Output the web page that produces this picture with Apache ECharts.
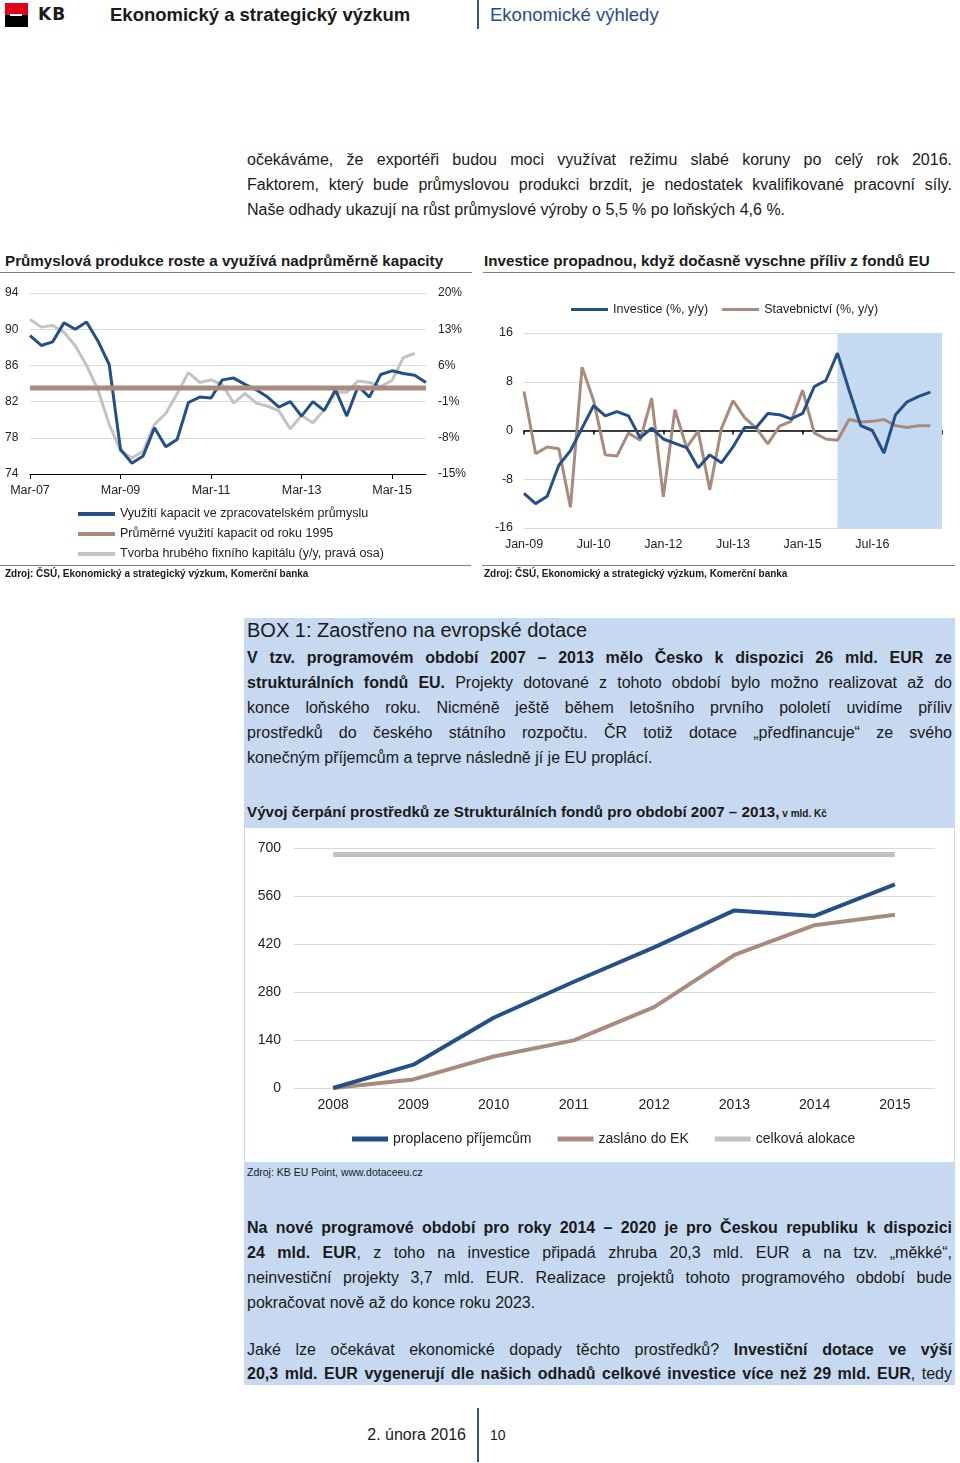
<!DOCTYPE html>
<html><head><meta charset="utf-8">
<script src="https://cdn.jsdelivr.net/npm/echarts@6/dist/echarts.min.js"></script>
<style>
body{margin:0;width:960px;height:1463px;position:relative;background:#fff;font-family:"Liberation Sans",Arial,sans-serif;color:#1a1a1a;overflow:hidden}
.abs{position:absolute}
.txt{position:absolute;left:247px;width:705px;font-size:16px;line-height:25px}
.j{white-space:nowrap}
b{font-weight:bold}
</style></head>
<body>
<!-- header -->
<div class="abs" style="left:5px;top:3px;width:23px;height:12px;background:#e2001a"></div>
<div class="abs" style="left:5px;top:15px;width:23px;height:12px;background:#000"></div>
<div class="abs" style="left:10px;top:14px;width:12px;height:2px;background:#fff"></div>
<div class="abs" style="left:38px;top:4px;font:bold 17px 'DejaVu Sans';letter-spacing:1px">KB</div>
<div class="abs" style="left:110px;top:4px;font:bold 18.5px 'Liberation Sans'">Ekonomický a strategický výzkum</div>
<div class="abs" style="left:477px;top:0;width:2px;height:29px;background:#2f5597"></div>
<div class="abs" style="left:490px;top:4px;font:18.5px 'Liberation Sans';color:#1f4e8c">Ekonomické výhledy</div>

<div class="txt" style="top:146.5px">
<div class="j">očekáváme, že exportéři budou moci využívat režimu slabé koruny po celý rok 2016.</div>
<div class="j">Faktorem, který bude průmyslovou produkci brzdit, je nedostatek kvalifikované pracovní síly.</div>
<div>Naše odhady ukazují na růst průmyslové výroby o 5,5 % po loňských 4,6 %.</div>
</div>

<!-- chart titles -->
<div class="abs" style="left:5px;top:252px;font:bold 15.2px 'Liberation Sans'">Průmyslová produkce roste a využívá nadprůměrně kapacity</div>
<div class="abs" style="left:484px;top:252px;font:bold 15.2px 'Liberation Sans'">Investice propadnou, když dočasně vyschne příliv z fondů EU</div>
<div class="abs" style="left:0;top:272px;width:472px;height:1px;background:#7f7f7f"></div>
<div class="abs" style="left:483px;top:272px;width:472px;height:1px;background:#7f7f7f"></div>

<div id="c1" class="abs" style="left:0;top:280px;width:480px;height:300px"></div>
<div id="c2" class="abs" style="left:480px;top:280px;width:480px;height:285px"></div>

<div class="abs" style="left:0;top:565px;width:471px;height:1px;background:#7f7f7f"></div>
<div class="abs" style="left:482px;top:565px;width:473px;height:1px;background:#7f7f7f"></div>
<div class="abs" style="left:5px;top:568px;font:bold 10px 'Liberation Sans'">Zdroj: ČSÚ, Ekonomický a strategický výzkum, Komerční banka</div>
<div class="abs" style="left:484px;top:568px;font:bold 10px 'Liberation Sans'">Zdroj: ČSÚ, Ekonomický a strategický výzkum, Komerční banka</div>

<!-- box -->
<div class="abs" style="left:244px;top:618px;width:711px;height:767px;background:#c6d9f1"></div>
<div class="abs" style="left:247px;top:619px;font:20px 'Liberation Sans'">BOX 1: Zaostřeno na evropské dotace</div>
<div class="txt" style="top:644.5px">
<div class="j"><b>V tzv. programovém období 2007 – 2013 mělo Česko k dispozici 26 mld. EUR ze</b></div>
<div class="j"><b>strukturálních fondů EU.</b> Projekty dotované z tohoto období bylo možno realizovat až do</div>
<div class="j">konce loňského roku. Nicméně ještě během letošního prvního pololetí uvidíme příliv</div>
<div class="j">prostředků do českého státního rozpočtu. ČR totiž dotace „předfinancuje“ ze svého</div>
<div>konečným příjemcům a teprve následně jí je EU proplácí.</div>
</div>
<div class="abs" style="left:247px;top:803px;font:bold 15.2px 'Liberation Sans'">Vývoj čerpání prostředků ze Strukturálních fondů pro období 2007 – 2013,<span style="font-size:10px"> v mld. Kč</span></div>
<div id="c3" class="abs" style="left:245px;top:828px;width:709px;height:334px;background:#fff"></div>
<div class="abs" style="left:247px;top:1166px;font:10.5px 'Liberation Sans'">Zdroj: KB EU Point, www.dotaceeu.cz</div>
<div class="txt" style="top:1214.5px">
<div class="j"><b>Na nové programové období pro roky 2014 – 2020 je pro Českou republiku k dispozici</b></div>
<div class="j"><b>24 mld. EUR</b>, z toho na investice připadá zhruba 20,3 mld. EUR a na tzv. „měkké“,</div>
<div class="j">neinvestiční projekty 3,7 mld. EUR. Realizace projektů tohoto programového období bude</div>
<div>pokračovat nově až do konce roku 2023.</div>
</div>
<div class="txt" style="top:1338px;line-height:24px">
<div class="j">Jaké lze očekávat ekonomické dopady těchto prostředků? <b>Investiční dotace ve výší</b></div>
<div class="j"><b>20,3 mld. EUR vygenerují dle našich odhadů celkové investice více než 29 mld. EUR</b>, tedy</div>
</div>

<!-- footer -->
<div class="abs" style="left:300px;width:166px;text-align:right;top:1426px;font:16px 'Liberation Sans'">2. února 2016</div>
<div class="abs" style="left:477px;top:1408px;width:2px;height:54px;background:#2f5597"></div>
<div class="abs" style="left:490px;top:1427px;font:14px 'Liberation Sans'">10</div>

<script>
// ---------- data ----------
const quartersA = ['Mar-07','Jun-07','Sep-07','Dec-07','Mar-08','Jun-08','Sep-08','Dec-08','Mar-09','Jun-09','Sep-09','Dec-09','Mar-10','Jun-10','Sep-10','Dec-10','Mar-11','Jun-11','Sep-11','Dec-11','Mar-12','Jun-12','Sep-12','Dec-12','Mar-13','Jun-13','Sep-13','Dec-13','Mar-14','Jun-14','Sep-14','Dec-14','Mar-15','Jun-15','Sep-15','Dec-15'];
const capacityUse = [89.3,88.2,88.6,90.7,90.0,90.8,88.7,86.1,76.7,75.2,76.0,79.1,77.0,77.8,81.9,82.5,82.4,84.4,84.6,83.9,83.3,82.5,81.4,82.0,80.4,82.0,81.0,83.3,80.4,83.7,82.5,85.0,85.4,85.1,84.9,84.1];
const capacityAvg = [83.5,83.5,83.5,83.5,83.5,83.5,83.5,83.5,83.5,83.5,83.5,83.5,83.5,83.5,83.5,83.5,83.5,83.5,83.5,83.5,83.5,83.5,83.5,83.5,83.5,83.5,83.5,83.5,83.5,83.5,83.5,83.5,83.5,83.5,83.5,83.5];
const gfcf = [14.9,13.4,13.7,12.4,9.8,6.0,1.3,-5.4,-10.5,-11.9,-10.6,-5.4,-3.3,0.5,4.6,2.7,3.2,2.3,-1.3,0.6,-1.3,-1.9,-2.8,-6.3,-3.7,-5.1,-2.6,0.8,0.8,3.0,2.7,1.9,3.1,7.5,8.3,null];
const leftTicks = {min:74, max:94, step:4};
const rightTicks = {min:-15, max:20, step:7};

const quartersB = ['Jan-09','Apr-09','Jul-09','Oct-09','Jan-10','Apr-10','Jul-10','Oct-10','Jan-11','Apr-11','Jul-11','Oct-11','Jan-12','Apr-12','Jul-12','Oct-12','Jan-13','Apr-13','Jul-13','Oct-13','Jan-14','Apr-14','Jul-14','Oct-14','Jan-15','Apr-15','Jul-15','Oct-15','Jan-16','Apr-16','Jul-16','Oct-16','Jan-17','Apr-17','Jul-17','Oct-17','Jan-18'];
const investice = [-10.3,-12.0,-10.8,-5.7,-3.3,0.4,4.1,2.4,3.1,2.4,-1.2,0.4,-1.4,-2.1,-2.8,-6.1,-4.0,-5.3,-2.7,0.5,0.5,2.8,2.6,1.9,2.8,7.2,8.2,12.7,6.6,0.8,0.0,-3.7,2.6,4.7,5.6,6.3,null];
const stavebnictvi = [6.4,-3.8,-2.7,-3.0,-12.6,10.4,4.9,-4.0,-4.2,-0.4,-1.6,5.3,-10.9,3.4,-2.8,-0.1,-9.7,0.3,4.9,2.1,0.4,-2.2,0.7,1.5,6.6,-0.4,-1.4,-1.6,1.8,1.4,1.5,1.8,0.8,0.5,0.8,0.8,null];
const forecastFrom = 'Oct-15', forecastTo = 'Jan-18';

const years = ['2008','2009','2010','2011','2012','2013','2014','2015'];
const proplaceno = [0,68,205,310,410,518,502,594];
const zaslano = [0,25,92,139,236,388,475,505];
const alokace = [681,681,681,681,681,681,681,681];

// ---------- justify lines ----------
document.querySelectorAll('.j').forEach(el=>{
  const span=document.createElement('span');
  while(el.firstChild) span.appendChild(el.firstChild);
  el.appendChild(span);
  const w=span.getBoundingClientRect().width;
  const target=el.clientWidth;
  const n=(span.textContent.match(/ /g)||[]).length;
  if(n>0) el.style.wordSpacing=((target-w)/n)+'px';
});

const FF='Liberation Sans';
const BLUE='#24508a', BROWN='#a98b7e', GREY='#c3c3c3';

// ---------- chart 1 ----------
const c1=echarts.init(document.getElementById('c1'));
c1.setOption({
  animation:false,
  textStyle:{fontFamily:FF},
  grid:{left:30,right:54,top:13,height:181},
  legend:{orient:'vertical',left:73,top:222,icon:'rect',itemWidth:37,itemHeight:4,itemGap:6,
    textStyle:{fontSize:12.5,color:'#222',fontFamily:FF,lineHeight:14},
    data:['Využití kapacit ve zpracovatelském průmyslu','Průměrné využití kapacit od roku 1995','Tvorba hrubého fixního kapitálu (y/y, pravá osa)']},
  xAxis:{type:'category',boundaryGap:false,data:quartersA,
    axisLine:{onZero:false,lineStyle:{color:'#000'}},
    axisTick:{interval:7,length:5,lineStyle:{color:'#000'}},
    axisLabel:{interval:7,fontSize:12.5,color:'#222',margin:10}},
  yAxis:[
    {type:'value',min:leftTicks.min,max:leftTicks.max,interval:leftTicks.step,
      axisLabel:{align:'left',margin:25,fontSize:12,color:'#222'},
      axisLine:{show:false},axisTick:{show:false},
      splitLine:{lineStyle:{color:'#d9d9d9'}}},
    {type:'value',min:rightTicks.min,max:rightTicks.max,interval:rightTicks.step,position:'right',
      axisLabel:{formatter:'{value}%',margin:12,fontSize:12,color:'#222'},
      axisLine:{show:false},axisTick:{show:false},splitLine:{show:false}}
  ],
  series:[
    {name:'Tvorba hrubého fixního kapitálu (y/y, pravá osa)',type:'line',yAxisIndex:1,data:gfcf,symbol:'none',lineStyle:{color:GREY,width:3},itemStyle:{color:GREY}},
    {name:'Využití kapacit ve zpracovatelském průmyslu',type:'line',data:capacityUse,symbol:'none',lineStyle:{color:BLUE,width:3},itemStyle:{color:BLUE}},
    {name:'Průměrné využití kapacit od roku 1995',type:'line',data:capacityAvg,symbol:'none',lineStyle:{color:BROWN,width:5},itemStyle:{color:BROWN}}
  ]
});

// ---------- chart 2 ----------
const c2=echarts.init(document.getElementById('c2'));
c2.setOption({
  animation:false,
  textStyle:{fontFamily:FF},
  grid:{left:44,right:18,top:53,height:195},
  legend:{top:18,left:86,icon:'rect',itemWidth:37,itemHeight:3,itemGap:14,
    textStyle:{fontSize:12.5,color:'#222',fontFamily:FF},
    data:['Investice (%, y/y)','Stavebnictví (%, y/y)']},
  xAxis:[
    {type:'category',boundaryGap:false,data:quartersB,
      axisLine:{show:false,onZero:false},axisTick:{show:false},
      axisLabel:{interval:(i)=>i%6===0&&i<36,fontSize:12.5,color:'#222',margin:10}},
    {type:'category',boundaryGap:false,data:quartersB,position:'top',
      axisLine:{onZero:true,lineStyle:{color:'#000',width:1.5}},
      axisTick:{inside:true,interval:5,length:4,lineStyle:{color:'#000',width:1.5}},
      axisLabel:{show:false}}
  ],
  yAxis:{type:'value',min:-16,max:16,interval:8,
    axisLabel:{margin:11,fontSize:12.5,color:'#222'},
    axisLine:{show:false},axisTick:{show:false},
    splitLine:{lineStyle:{color:'#d9d9d9'}}},
  series:[
    {name:'Investice (%, y/y)',type:'line',data:investice,symbol:'none',lineStyle:{color:BLUE,width:3},itemStyle:{color:BLUE},z:3,
      markArea:{silent:true,itemStyle:{color:'#c5d9f1'},data:[[{xAxis:forecastFrom},{xAxis:forecastTo}]]}},
    {name:'Stavebnictví (%, y/y)',type:'line',data:stavebnictvi,symbol:'none',lineStyle:{color:BROWN,width:3},itemStyle:{color:BROWN},z:2}
  ]
});

// ---------- chart 3 ----------
const c3=echarts.init(document.getElementById('c3'));
c3.setOption({
  animation:false,
  textStyle:{fontFamily:FF},
  grid:{left:48,right:19,top:20,height:240},
  legend:{top:299,left:102,icon:'rect',itemWidth:36,itemHeight:5,itemGap:26,
    textStyle:{fontSize:14,color:'#222',fontFamily:FF},
    data:['proplaceno příjemcům','zasláno do EK','celková alokace']},
  xAxis:{type:'category',data:years,boundaryGap:true,
    axisLine:{show:false},axisTick:{show:false},
    axisLabel:{fontSize:14,color:'#222',margin:10}},
  yAxis:{type:'value',min:0,max:700,interval:140,
    axisLabel:{fontSize:14,color:'#222',margin:12},
    axisLine:{show:false},axisTick:{show:false},
    splitLine:{lineStyle:{color:'#d9d9d9'}}},
  series:[
    {name:'celková alokace',type:'line',data:alokace,symbol:'none',lineStyle:{color:'#c0c0c8',width:5},itemStyle:{color:'#c0c0c8'}},
    {name:'zasláno do EK',type:'line',data:zaslano,symbol:'none',lineStyle:{color:BROWN,width:4},itemStyle:{color:BROWN}},
    {name:'proplaceno příjemcům',type:'line',data:proplaceno,symbol:'none',lineStyle:{color:BLUE,width:4},itemStyle:{color:BLUE}}
  ]
});
</script>
</body></html>
